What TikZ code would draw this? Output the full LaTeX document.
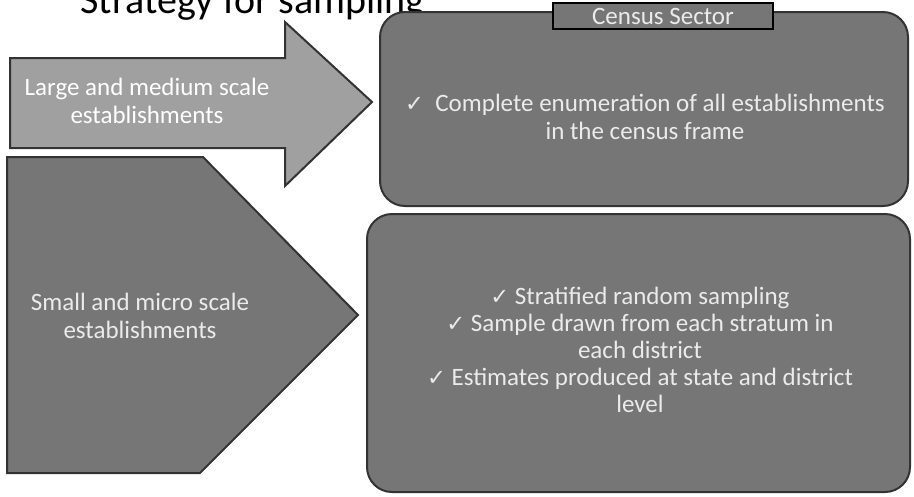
\documentclass[tikz,border=0pt]{standalone}
\usepackage{fontspec}
\setmainfont{Carlito}
\newfontfamily\symfont{DejaVu Sans}
\newcommand{\chk}{{\symfont\small ✓}}
\definecolor{darkfill}{RGB}{118,118,118}
\definecolor{arrowfill}{RGB}{160,160,160}
\definecolor{lighttext}{RGB}{235,235,235}
\begin{document}
\begin{tikzpicture}[x=0.4pt,y=-0.4pt,
    shapeline/.style={draw=black!80,line width=0.8pt},
    boxtext/.style={text=lighttext,align=center,font=\fontsize{10}{11}\selectfont}]
\useasboundingbox (0,0) rectangle (914,496);
% title, cut at the top edge
\node[anchor=base east,font=\fontsize{16}{18}\selectfont,inner sep=0pt] (title) at (425,13) {Strategy for sampling};
% arrow
\draw[shapeline,fill=arrowfill] (10,58) -- (285,58) -- (285,22) -- (372,102) -- (285,186) -- (285,148) -- (10,148) -- cycle;
\node[boxtext,text=white] (large) at (147,101) {Large and medium scale\\establishments};
% pentagon
\draw[shapeline,fill=darkfill] (7,157) -- (203,157) -- (358,315) -- (200,473) -- (7,473) -- cycle;
\node[boxtext] (small) at (140,316) {Small and micro scale\\establishments};
% census box
\draw[shapeline,fill=darkfill,rounded corners=10pt] (380,12) rectangle (908,206);
\node[draw=black,line width=1pt,fill=darkfill,text=lighttext,minimum width=88pt,minimum height=8pt,inner sep=2pt,font=\fontsize{10}{11}\selectfont] (census) at (663,16) {Census Sector};
\node[boxtext,font=\fontsize{10}{11.2}\selectfont] (censustext) at (645,117) {\chk\ \ Complete enumeration of all establishments\\in the census frame};
% sample box
\draw[shapeline,fill=darkfill,rounded corners=10pt] (367,214) rectangle (910,492);
\node[boxtext,font=\fontsize{10}{10.8}\selectfont] (sampletext) at (640,350) {\chk\ Stratified random sampling\\\chk\ Sample drawn from each stratum in\\each district\\\chk\ Estimates produced at state and district\\level};
\end{tikzpicture}
\end{document}
